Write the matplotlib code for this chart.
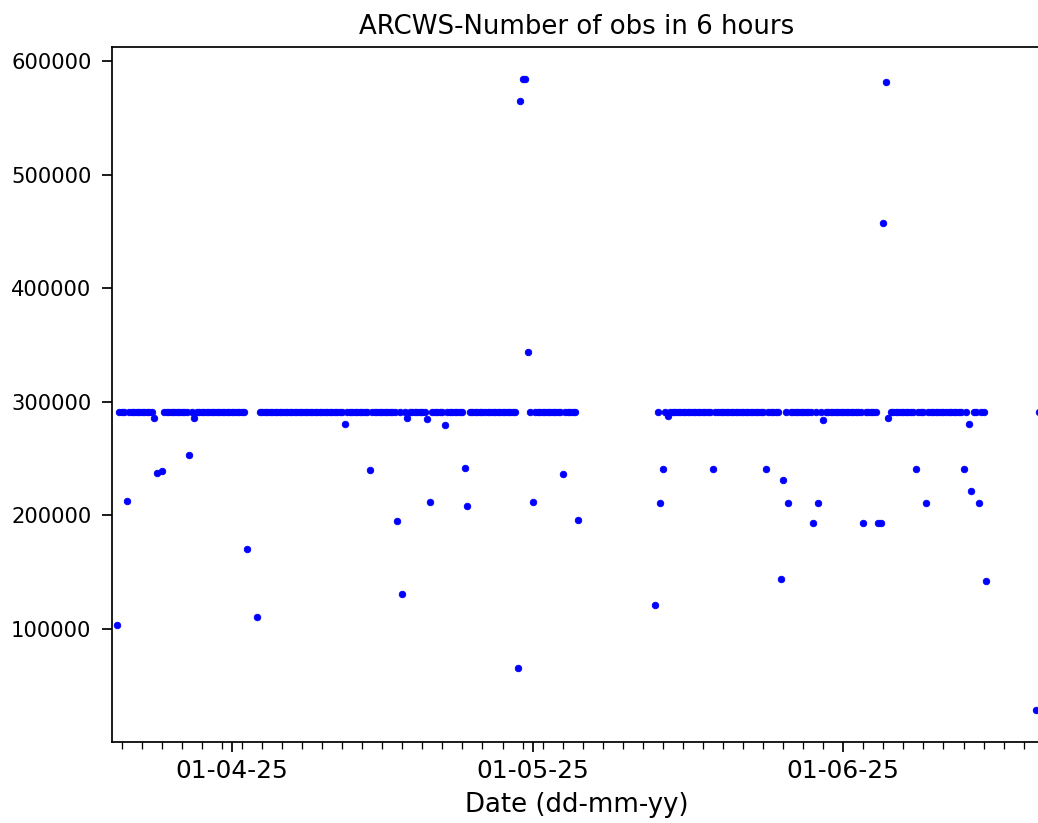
import matplotlib
matplotlib.use('Agg')
import matplotlib.pyplot as plt
import matplotlib.dates as mdates
import matplotlib.ticker as mticker
import numpy as np
import pandas as pd

N = None
# number of obs (thousands), one row per day, slots at 00, 06, 12, 18 UTC
march_obs = [  # 20 - 31 March 2025
    [N, N, 103, 291], [291, 291, 213, 291], [291, 291, 291, 291], [291, 291, 291, 291],
    [291, 286, 237.6, N], [239.3, 291, 291, 291], [291, 291, 291, 291], [291, 291, 291, 253],
    [291, 286, 291, 291], [291, 291, 291, 291], [291, 291, 291, 291], [291, 291, 291, 291],
]
april_obs = [  # 1 - 30 April 2025
    [291, 291, 291, 291], [291, 291, 170.7, N], [N, N, 110.8, 291], [291, 291, 291, 291],
    [291, 291, 291, 291], [291, 291, 291, 291], [291, 291, 291, 291], [291, 291, 291, 291],
    [291, 291, 291, 291], [291, 291, 291, 291], [291, 291, 291, 291], [291, 280.7, 291, 291],
    [291, 291, 291, 291], [291, 291, 291, 239.7], [291, 291, 291, 291], [291, 291, 291, 291],
    [291, 291, 194.8, 291], [130.8, 291, 286, 291], [291, 291, 291, 291], [291, 291, 284.6, 211.5],
    [291, 291, 291, 291], [291, 279.6, 291, 291], [291, 291, 291, 291], [291, 241.5, 208, 291],
    [291, 291, 291, 291], [291, 291, 291, 291], [291, 291, 291, 291], [291, 291, 291, 291],
    [291, 291, 65.9, 564.8], [584.8, 584.8, 344.1, 291],
]
may_obs = [  # 1 - 31 May 2025
    [211.5, 291, 291, 291], [291, 291, 291, 291], [291, 291, 291, 291], [236.2, 291, 291, 291],
    [291, 291, 196.2, N], [N, N, N, N], [N, N, N, N], [N, N, N, N],
    [N, N, N, N], [N, N, N, N], [N, N, N, N], [N, N, N, N],
    [N, 120.9, 291, 211.2], [241.1, 291, 287.5, 291], [291, 291, 291, 291], [291, 291, 291, 291],
    [291, 291, 291, 291], [291, 291, 291, 291], [241.1, 291, 291, 291], [291, 291, 291, 291],
    [291, 291, 291, 291], [291, 291, 291, 291], [291, 291, 291, 291], [291, 241.1, 291, 291],
    [291, 291, 291, 144.0], [231.2, 291, 211.2, 291], [291, 291, 291, 291], [291, 291, 291, 291],
    [193.0, 291, 211.2, 291], [284, 291, 291, 291], [291, 291, 291, 291],
]
june_obs = [  # 1 - 20 June 2025
    [291, 291, 291, 291], [291, 291, 291, 291], [193, 291, 291, 291], [291, 291, 193, 193],
    [457.5, 582, 286, 291], [291, 291, 291, 291], [291, 291, 291, 291], [291, 241.1, 291, 291],
    [291, 211.2, 291, 291], [291, 291, 291, 291], [291, 291, 291, 291], [291, 291, 291, 291],
    [241.1, 291, 280.7, 221.2], [291, 291, 211.2, 291], [291, 142.3, N, N], [N, N, N, N],
    [N, N, N, N], [N, N, N, N], [N, N, N, N], [N, 28.5, 291, N],
]

rows = march_obs + april_obs + may_obs + june_obs
times = pd.date_range('2025-03-20 00:00', periods=len(rows) * 4, freq='6h')
values = np.array([np.nan if v is None else v * 1000 for r in rows for v in r])

fig = plt.figure(figsize=(1038 / 156, 823 / 156), dpi=156)
ax = fig.add_axes([111.7 / 1038, (823 - 741.6) / 823, (1041.2 - 111.7) / 1038, (741.6 - 47) / 823])

ax.plot(times, values, linestyle='none', marker='o', markersize=3, markeredgewidth=0.4, color='blue')

ax.set_xlim(pd.Timestamp('2025-03-20 00:00'), pd.Timestamp('2025-06-20 18:00'))
ax.xaxis.set_major_locator(mdates.MonthLocator())
ax.xaxis.set_major_formatter(mdates.DateFormatter('%d-%m-%y'))
# minor ticks every second day
ax.xaxis.set_minor_locator(mticker.FixedLocator(
    mdates.date2num(pd.date_range('2025-03-21', '2025-06-20', freq='2D'))))
ax.tick_params(axis='x', which='major', labelsize=11.5, length=4.6)
ax.tick_params(axis='x', which='minor', length=3)
ax.tick_params(axis='y', labelsize=9.75, length=4.6, pad=4.7)

ax.set_title('ARCWS-Number of obs in 6 hours')
ax.set_xlabel('Date (dd-mm-yy)', fontsize=12)

fig.savefig('out.png', dpi=156)
